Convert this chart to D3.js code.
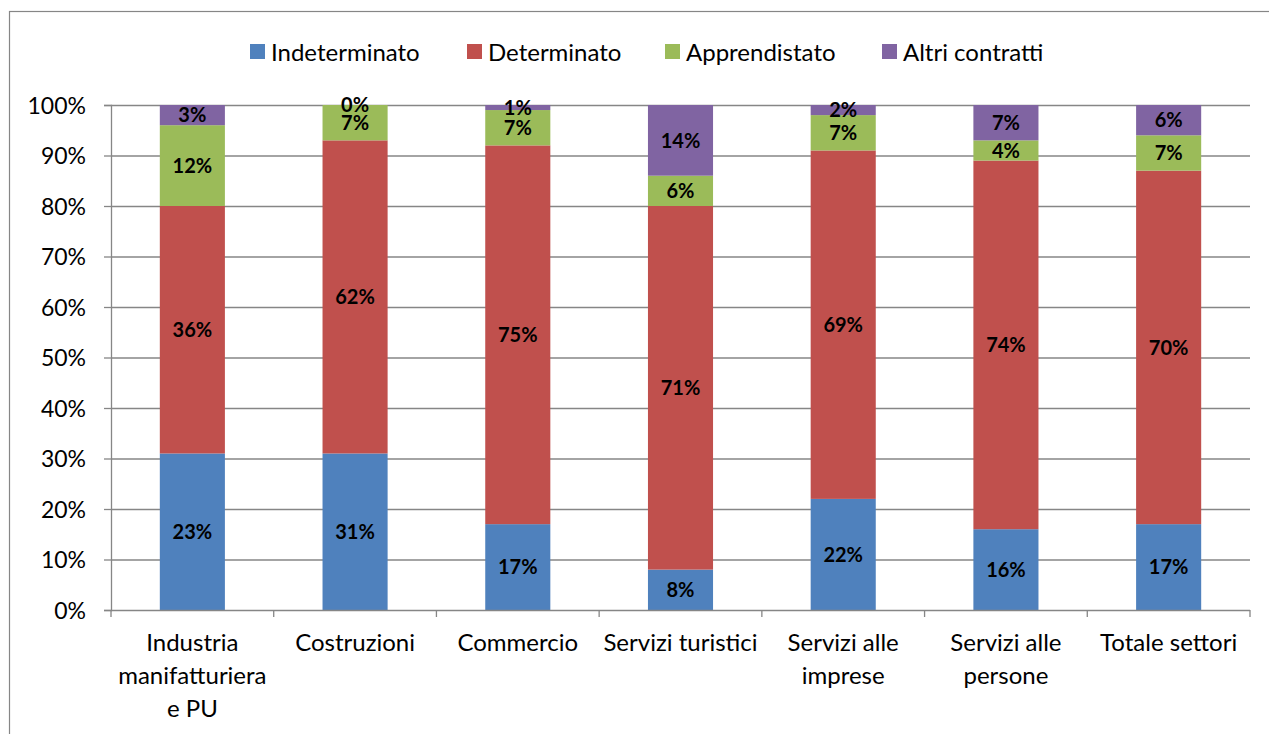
<!DOCTYPE html>
<html lang="it">
<head>
<meta charset="utf-8">
<title>Contratti per settore</title>
<script src="https://cdnjs.cloudflare.com/ajax/libs/d3/7.8.5/d3.min.js"></script>
<style>
  body { margin: 0; background: #fff; }
  text { font-family: Lato, "Open Sans", sans-serif; }
</style>
</head>
<body>
<div id="chart"></div>
<script>
// categories (line breaks as in the original axis)
var categories = ["Industria manifatturiera e PU", "Costruzioni", "Commercio", "Servizi turistici",
                  "Servizi alle imprese", "Servizi alle persone", "Totale settori"];
var catLines = [["Industria", "manifatturiera", "e PU"], ["Costruzioni"], ["Commercio"], ["Servizi turistici"],
                ["Servizi alle", "imprese"], ["Servizi alle", "persone"], ["Totale settori"]];
var seriesNames = ["Indeterminato", "Determinato", "Apprendistato", "Altri contratti"];

// segment heights as drawn (%)
var indeterminato = [31, 31, 17, 8, 22, 16, 17];
var determinato   = [49, 62, 75, 72, 69, 73, 70];
var apprendistato = [16, 7, 7, 6, 7, 4, 7];
var altri         = [4, 0, 1, 14, 2, 7, 6];

// data labels as printed on the bars
var lblIndeterminato = ["23%", "31%", "17%", "8%", "22%", "16%", "17%"];
var lblDeterminato   = ["36%", "62%", "75%", "71%", "69%", "74%", "70%"];
var lblApprendistato = ["12%", "7%", "7%", "6%", "7%", "4%", "7%"];
var lblAltri         = ["3%", "0%", "1%", "14%", "2%", "7%", "6%"];

var yTicks = [0, 10, 20, 30, 40, 50, 60, 70, 80, 90, 100];

var colors = ["#4F81BD", "#C0504D", "#9BBB59", "#8064A2"];

var width = 1269, height = 734;
var plotLeft = 111, plotRight = 1250, plotTop = 105, plotBottom = 610;
var gridColor = "#868686";

var svg = d3.select("#chart").append("svg").attr("width", width).attr("height", height);

// outer chart border (runs off the right and bottom edges)
svg.append("rect").attr("x", 9.5).attr("y", 11.5).attr("width", 1400).attr("height", 900)
    .attr("fill", "none").attr("stroke", gridColor).attr("stroke-width", 1.2);

var x = d3.scaleBand().domain(categories).range([plotLeft, plotRight]).paddingInner(0.6).paddingOuter(0.3);
var y = d3.scaleLinear().domain([0, 100]).range([plotBottom, plotTop]);

// gridlines
svg.selectAll("line.grid").data(yTicks.filter(function(d) { return d > 0; })).enter().append("line")
    .attr("x1", plotLeft).attr("x2", plotRight)
    .attr("y1", function(d) { return y(d) + 0.5; }).attr("y2", function(d) { return y(d) + 0.5; })
    .attr("stroke", gridColor).attr("stroke-width", 1.3);

// y axis
var yAxis = svg.append("g").attr("transform", "translate(" + plotLeft + ",0)")
    .call(d3.axisLeft(y).tickValues(yTicks).tickSize(7).tickFormat(function(d) { return d + "%"; }));
yAxis.select(".domain").attr("stroke", gridColor).attr("stroke-width", 1.3);
yAxis.selectAll(".tick line").attr("stroke", gridColor).attr("stroke-width", 1.3);
yAxis.selectAll(".tick text").attr("x", -25).attr("dy", "0.35em")
    .attr("font-size", "23px").attr("fill", "#000").attr("font-family", "Lato, sans-serif");

// stacked bars
var rows = categories.map(function(c, i) {
  return { cat: c, "Indeterminato": indeterminato[i], "Determinato": determinato[i],
           "Apprendistato": apprendistato[i], "Altri contratti": altri[i] };
});
var labels = [lblIndeterminato, lblDeterminato, lblApprendistato, lblAltri];
var stack = d3.stack().keys(seriesNames)(rows);

var layers = svg.selectAll("g.layer").data(stack).enter().append("g")
    .attr("fill", function(d, i) { return colors[i]; });
layers.selectAll("rect").data(function(d) { return d; }).enter().append("rect")
    .attr("x", function(d) { return x(d.data.cat); })
    .attr("width", x.bandwidth())
    .attr("y", function(d) { return y(d[1]); })
    .attr("height", function(d) { return y(d[0]) - y(d[1]); });

// data labels
stack.forEach(function(layer, si) {
  svg.append("g").selectAll("text").data(layer).enter().append("text")
      .attr("x", function(d) { return x(d.data.cat) + x.bandwidth() / 2; })
      .attr("y", function(d) { return (y(d[0]) + y(d[1])) / 2; })
      .attr("dy", "0.36em")
      .attr("text-anchor", "middle")
      .attr("font-size", "20px").attr("font-weight", "bold").attr("fill", "#000")
      .text(function(d, i) { return labels[si][i]; });
});

// x axis
var step = x.step();
var bounds = d3.range(categories.length + 1).map(function(i) { return plotLeft + i * step; });
svg.append("line").attr("x1", plotLeft).attr("x2", plotRight)
    .attr("y1", plotBottom + 0.5).attr("y2", plotBottom + 0.5)
    .attr("stroke", gridColor).attr("stroke-width", 1.3);
svg.selectAll("line.xtick").data(bounds).enter().append("line")
    .attr("x1", function(d) { return d; }).attr("x2", function(d) { return d; })
    .attr("y1", plotBottom).attr("y2", plotBottom + 7)
    .attr("stroke", gridColor).attr("stroke-width", 1.3);

categories.forEach(function(c, i) {
  var t = svg.append("text").attr("text-anchor", "middle").attr("font-size", "24px").attr("fill", "#000");
  catLines[i].forEach(function(line, k) {
    t.append("tspan").attr("x", x(c) + x.bandwidth() / 2).attr("y", 651 + k * 33).text(line);
  });
});

// legend
var legendX = [250, 467, 665, 882];
var legend = svg.selectAll("g.legend").data(seriesNames).enter().append("g")
    .attr("transform", function(d, i) { return "translate(" + legendX[i] + ",44)"; });
legend.append("rect").attr("width", 15).attr("height", 15)
    .attr("fill", function(d, i) { return colors[i]; });
legend.append("text").attr("x", 21).attr("y", 8).attr("dy", "0.36em")
    .attr("font-size", "24px").attr("fill", "#000").text(function(d) { return d; });
</script>
</body>
</html>
